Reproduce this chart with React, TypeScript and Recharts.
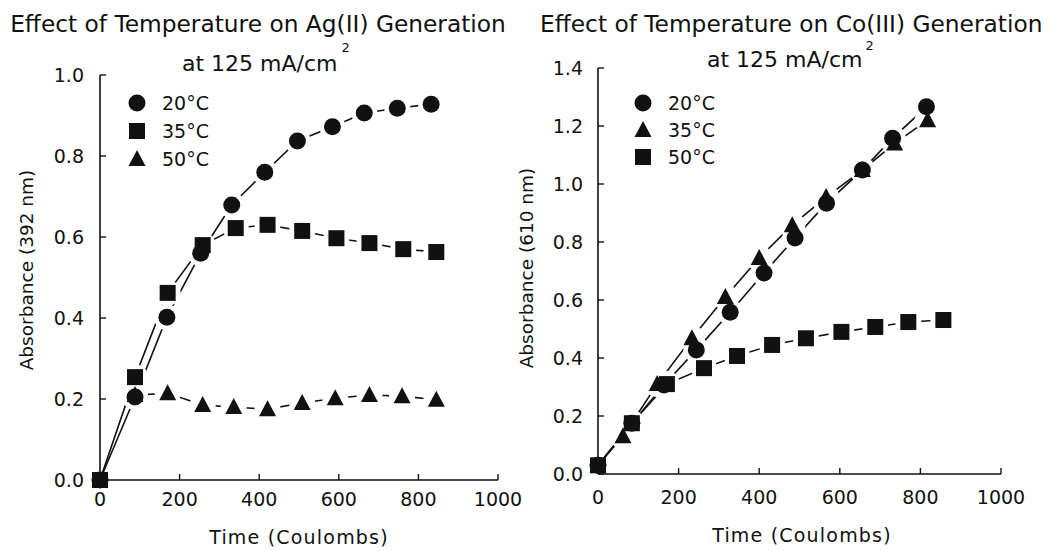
import React from 'react'
import { LineChart, Line, XAxis, YAxis, Legend } from 'recharts'

const FONT = 'DejaVu Sans'
const INK = '#111'

// shared x ticks (Time, Coulombs)
const X_TICKS = [0, 200, 400, 600, 800, 1000]
const TOP_TICKS = [200, 400, 600, 800]

// Ag(II) panel
const AG_Y_TICKS = [0, 0.2, 0.4, 0.6, 0.8, 1.0]
const agTime20 = [0, 88, 168, 253, 331, 414, 496, 584, 664, 747, 832]
const ag20 = [0, 0.205, 0.402, 0.56, 0.679, 0.76, 0.837, 0.872, 0.906, 0.918, 0.928]
const agTime35 = [0, 88, 170, 258, 341, 421, 508, 594, 677, 762, 845]
const ag35 = [0, 0.254, 0.462, 0.58, 0.622, 0.63, 0.615, 0.597, 0.585, 0.57, 0.563]
const agTime50 = [88, 170, 258, 336, 421, 508, 591, 677, 759, 845]
const ag50 = [0.21, 0.214, 0.185, 0.18, 0.175, 0.19, 0.202, 0.21, 0.207, 0.198]

// Co(III) panel
const CO_Y_TICKS = [0, 0.2, 0.4, 0.6, 0.8, 1.0, 1.2, 1.4]
const coTime20 = [0, 84, 164, 244, 328, 412, 489, 567, 656, 731, 815]
const co20 = [0.03, 0.175, 0.307, 0.428, 0.558, 0.693, 0.814, 0.934, 1.048, 1.158, 1.266]
const coTime35 = [0, 62, 147, 233, 316, 400, 482, 566, 656, 736, 818]
const co35 = [0.03, 0.13, 0.31, 0.468, 0.61, 0.745, 0.858, 0.955, 1.048, 1.14, 1.22]
const coTime50 = [0, 84, 171, 263, 345, 432, 516, 604, 688, 770, 857]
const co50 = [0.03, 0.175, 0.31, 0.365, 0.407, 0.445, 0.468, 0.49, 0.507, 0.524, 0.531]

type Kind = 'circle' | 'square' | 'triangle'
type Series = { name: string; kind: Kind; pts: { t: number; v: number }[] }

const toPts = (ts: number[], vs: number[]) => ts.map((t, i) => ({ t, v: vs[i] }))

function Marker({ kind, cx, cy, fill = INK }: { kind: Kind; cx: number; cy: number; fill?: string }) {
  if (kind === 'circle') return <circle cx={cx} cy={cy} r={8.5} fill={fill} />
  if (kind === 'square') return <rect x={cx - 8} y={cy - 8} width={16} height={16} fill={fill} />
  return <polygon points={`${cx},${cy - 9} ${cx - 8.5},${cy + 7} ${cx + 8.5},${cy + 7}`} fill={fill} />
}

function legendContent(series: Series[], gap: number) {
  return () => (
    <svg width={110} height={90} style={{ overflow: 'visible' }}>
      {series.map((s, i) => (
        <g key={s.name}>
          <Marker kind={s.kind} cx={10} cy={12 + i * gap} />
          <text x={35} y={12 + i * gap + 7} fontSize={19} fontFamily={FONT} fill={INK}>{s.name}</text>
        </g>
      ))}
    </svg>
  )
}

function Panel({ series, yMax, yTicks, width, height, margin, yTickMargin, xTickMargin, legendPos, legendGap }: {
  series: Series[]; yMax: number; yTicks: number[]; width: number; height: number
  margin: { top: number; right: number; bottom: number; yAxisWidth: number }
  yTickMargin: number; xTickMargin: number; legendPos: { left: number; top: number }; legendGap: number
}) {
  const tick = { fontSize: 19, fill: INK, fontFamily: FONT }
  const axisLine = { stroke: INK, strokeWidth: 1.6 }
  return (
    <LineChart width={width} height={height} margin={{ top: margin.top, right: margin.right, bottom: margin.bottom, left: 0 }}>
      <XAxis dataKey="t" type="number" domain={[0, 1000]} ticks={X_TICKS}
        tick={tick} tickSize={-6} tickMargin={xTickMargin} axisLine={axisLine} tickLine={{ stroke: INK, strokeWidth: 1.4 }} height={30} />
      <XAxis xAxisId="top" orientation="top" type="number" domain={[0, 1000]} ticks={TOP_TICKS}
        tickFormatter={() => ''} tickSize={-6} axisLine={axisLine} tickLine={{ stroke: INK, strokeWidth: 1.4 }} height={0} />
      <YAxis type="number" domain={[0, yMax]} ticks={yTicks} width={margin.yAxisWidth}
        tickFormatter={(v: number) => v.toFixed(1)} tick={tick} tickSize={-6} tickMargin={yTickMargin}
        axisLine={axisLine} tickLine={{ stroke: INK, strokeWidth: 1.4 }} />
      <YAxis yAxisId="right" orientation="right" type="number" domain={[0, yMax]} width={0}
        tick={false} tickLine={false} axisLine={axisLine} />
      <Legend layout="vertical" align="center" verticalAlign="middle"
        wrapperStyle={{ left: legendPos.left, top: legendPos.top, width: 110 }}
        content={legendContent(series, legendGap)} />
      {/* connecting lines */}
      {series.map(s => (
        <Line key={`l-${s.name}`} data={s.pts} dataKey="v" type="linear" stroke={INK} strokeWidth={1.6}
          dot={false} activeDot={false} legendType="none" isAnimationActive={false} />
      ))}
      {/* white halos break the lines around each marker, as in the plotted original */}
      {series.map(s => (
        <Line key={`h-${s.name}`} data={s.pts} dataKey="v" type="linear" stroke="none" activeDot={false}
          legendType="none" isAnimationActive={false}
          dot={(p: any) => p.payload.t === 0
            ? <g key={`h-${s.name}-${p.index}`} />
            : <circle key={`h-${s.name}-${p.index}`} cx={p.cx} cy={p.cy} r={13} fill="#fff" />} />
      ))}
      {series.map(s => (
        <Line key={`m-${s.name}`} data={s.pts} dataKey="v" type="linear" stroke="none" activeDot={false}
          legendType="none" isAnimationActive={false}
          dot={(p: any) => <Marker key={`m-${s.name}-${p.index}`} kind={s.kind} cx={p.cx} cy={p.cy} />} />
      ))}
    </LineChart>
  )
}

const agSeries: Series[] = [
  { name: '20°C', kind: 'circle', pts: toPts(agTime20, ag20) },
  { name: '35°C', kind: 'square', pts: toPts(agTime35, ag35) },
  { name: '50°C', kind: 'triangle', pts: toPts(agTime50, ag50) },
]

const coSeries: Series[] = [
  { name: '20°C', kind: 'circle', pts: toPts(coTime20, co20) },
  { name: '35°C', kind: 'triangle', pts: toPts(coTime35, co35) },
  { name: '50°C', kind: 'square', pts: toPts(coTime50, co50) },
]

export default function App() {
  const txt = { fontFamily: FONT, fill: INK }
  return (
    <div style={{ position: 'absolute', left: 0, top: 0, width: 1061, height: 551, background: '#fff', overflow: 'hidden', fontFamily: FONT }}>
      <div style={{ position: 'absolute', left: 0, top: 0 }}>
        <Panel series={agSeries} yMax={1.0} yTicks={AG_Y_TICKS} width={530} height={551}
          margin={{ top: 75, right: 32, bottom: 41, yAxisWidth: 100 }}
          yTickMargin={22} xTickMargin={19} legendPos={{ left: 127, top: 91 }} legendGap={28} />
      </div>
      <div style={{ position: 'absolute', left: 530, top: 0 }}>
        <Panel series={coSeries} yMax={1.4} yTicks={CO_Y_TICKS} width={531} height={551}
          margin={{ top: 68, right: 60, bottom: 47, yAxisWidth: 68 }}
          yTickMargin={21} xTickMargin={23} legendPos={{ left: 103, top: 91 }} legendGap={27} />
      </div>
      <svg width={1061} height={551} style={{ position: 'absolute', left: 0, top: 0, pointerEvents: 'none' }}>
        <text x={258} y={32} fontSize={23.3} textAnchor="middle" {...txt}>Effect of Temperature on Ag(II) Generation</text>
        <text x={182} y={71} fontSize={22} {...txt}>
          at 125 mA/cm<tspan dx={4} dy={-19} fontSize={13}>2</tspan>
        </text>
        <text x={540} y={32} fontSize={23.3} {...txt}>Effect of Temperature on Co(III) Generation</text>
        <text x={707} y={67} fontSize={22} {...txt}>
          at 125 mA/cm<tspan dx={3} dy={-17} fontSize={13}>2</tspan>
        </text>
        <text transform="translate(33,270) rotate(-90)" fontSize={18.5} textAnchor="middle" {...txt}>Absorbance (392 nm)</text>
        <text transform="translate(533,268) rotate(-90)" fontSize={18.5} textAnchor="middle" {...txt}>Absorbance (610 nm)</text>
        <text x={299} y={544} fontSize={19} letterSpacing={1.2} textAnchor="middle" {...txt}>Time (Coulombs)</text>
        <text x={802} y={542} fontSize={19} letterSpacing={1.2} textAnchor="middle" {...txt}>Time (Coulombs)</text>
      </svg>
    </div>
  )
}
